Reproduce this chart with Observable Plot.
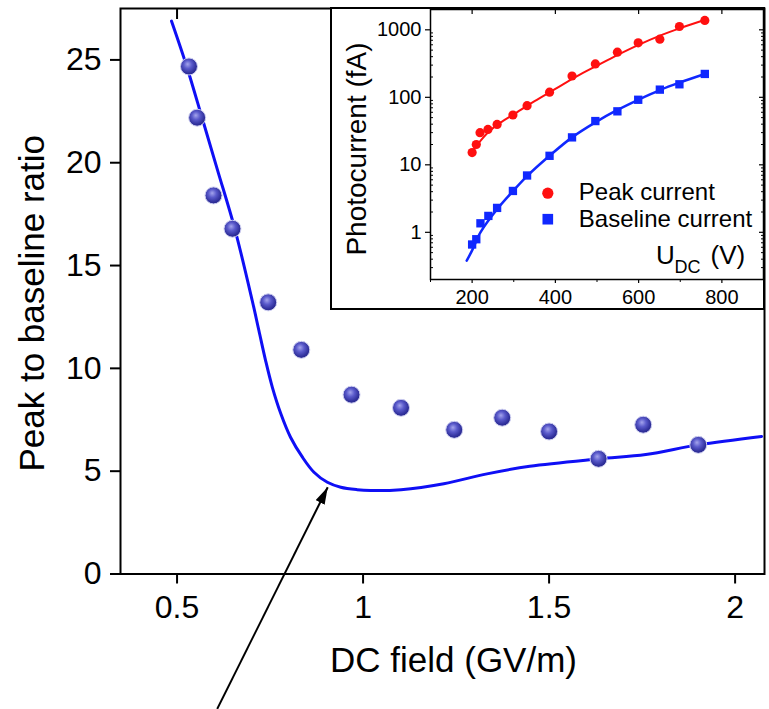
<!DOCTYPE html>
<html><head><meta charset="utf-8">
<script src="https://cdn.jsdelivr.net/npm/d3@7"></script>
<script src="https://cdn.jsdelivr.net/npm/@observablehq/plot@0.6"></script>
<style>
body{margin:0;background:#fff;}
#wrap{position:relative;width:769px;height:709px;overflow:hidden;background:#fff;}
#wrap > svg{position:absolute;left:0;top:0;}
#inset{position:absolute;left:330px;top:7px;width:435px;height:303px;box-sizing:border-box;border:2px solid #000;background:#fff;}
#inset svg{display:block;}
</style></head><body><div id="wrap"><div id="inset"></div></div>
<script>
// ---------- main chart data ----------
const fieldGVm = [0.532, 0.554, 0.598, 0.649, 0.745, 0.834, 0.969, 1.102, 1.245, 1.374, 1.5, 1.633, 1.753, 1.901];
const ratio    = [24.68, 22.19, 18.41, 16.79, 13.21, 10.90, 8.72, 8.08, 7.01, 7.60, 6.93, 5.60, 7.26, 6.28];
const fitField = [0.485, 0.526, 0.567, 0.609, 0.655, 0.702, 0.720, 0.738, 0.756, 0.779, 0.805, 0.837, 0.868, 0.904, 0.940, 0.984, 1.020, 1.102, 1.217, 1.333, 1.448, 1.633, 1.760, 1.901, 2.071];
const fitRatio = [26.89, 24.68, 22.20, 19.63, 16.80, 13.30, 11.84, 10.38, 9.09, 7.79, 6.65, 5.68, 4.95, 4.46, 4.22, 4.10, 4.06, 4.10, 4.39, 4.87, 5.24, 5.60, 5.81, 6.28, 6.69];
const xTicks = [0.5, 1, 1.5, 2];
const yTicks = [0, 5, 10, 15, 20, 25];
const arrowFrom = [0.608, -6.56];
const arrowTo   = [0.905, 4.22];

// ---------- inset data ----------
const peakV = [200, 210, 219, 238, 260, 298, 332, 386, 440, 496, 549, 599, 651, 698, 759];
const peakI = [15.2, 20, 29.9, 33.5, 39.7, 54.7, 75.2, 119, 207, 312, 466, 641, 727, 1120, 1376];
const baseV = [200, 210, 220, 239, 260, 298, 332, 386, 440, 496, 549, 599, 651, 698, 759];
const baseI = [0.66, 0.79, 1.36, 1.75, 2.3, 4.1, 6.95, 13.6, 25.5, 44.5, 62, 92, 130, 156, 222];
const peakFitV = [198, 210, 240, 270, 300, 350, 400, 450, 500, 550, 600, 650, 700, 760];
const peakFitI = [14.8, 19, 31, 43, 56, 88, 133, 203, 295, 426, 599, 813, 1059, 1409];
const baseFitV = [187, 200, 220, 260, 298, 332, 386, 440, 496, 549, 599, 651, 698, 759];
const baseFitI = [0.38, 0.54, 1.0, 2.2, 4.07, 6.8, 13.6, 25.5, 42.6, 65, 92, 128, 165, 222];
const insetXTicks = [200, 400, 600, 800];
const insetXMinor = [100, 300, 500, 700, 900];
const insetYTicks = [1, 10, 100, 1000];
const insetYMinor = [0.3,0.4,0.5,0.6,0.7,0.8,0.9,2,3,4,5,6,7,8,9,20,30,40,50,60,70,80,90,200,300,400,500,600,700,800,900];
const legendLabels = ["Peak current", "Baseline current"];

const FONT = "'Liberation Sans', Arial, Helvetica, sans-serif";
const points = fieldGVm.map((x, i) => ({x, y: ratio[i]}));
const fit = fitField.map((x, i) => ({x, y: fitRatio[i]}));
const arrow = [{x1: arrowFrom[0], y1: arrowFrom[1], x2: arrowTo[0], y2: arrowTo[1]}];

const main = Plot.plot({
  width: 769, height: 709,
  marginLeft: 120, marginRight: 5, marginTop: 8, marginBottom: 135.5,
  style: {fontFamily: FONT, background: "transparent", color: "black", overflow: "visible"},
  x: {domain: [0.348, 2.079], label: null},
  y: {domain: [0, 27.5], label: null},
  marks: [
    Plot.axisY(yTicks, {tickSize: 10, tickPadding: 9, fontSize: 32, strokeWidth: 2, tickFormat: d => String(d), label: null}),
    Plot.axisX(xTicks, {tickSize: 10, tickPadding: 11, fontSize: 32, strokeWidth: 2, tickFormat: d => String(d), label: null}),
    Plot.axisX(xTicks, {anchor: "top", tickSize: -10, tickFormat: () => "", strokeWidth: 2, label: null}),
    Plot.frame({strokeWidth: 2}),
    Plot.line(fit, {x: "x", y: "y", stroke: "#0f0ff5", strokeWidth: 3, curve: "catmull-rom"}),
    Plot.dot(points, {x: "x", y: "y", r: 8.5, fill: "url(#sphere)", stroke: "#cfd0f2", strokeWidth: 1}),
    Plot.link(arrow, {x1: "x1", y1: "y1", x2: "x2", y2: "y2", stroke: "black", strokeWidth: 2}),
    Plot.text(["Peak to baseline ratio"], {frameAnchor: "left", textAnchor: "middle", lineAnchor: "middle", rotate: -90, dx: -88, dy: 12, fontSize: 35}),
    Plot.text(["DC field (GV/m)"], {frameAnchor: "bottom", textAnchor: "middle", lineAnchor: "middle", dx: 11, dy: 86.5, fontSize: 35})
  ]
});

const defs = d3.select(main).insert("defs", ":first-child");
const grad = defs.append("radialGradient").attr("id", "sphere")
  .attr("cx", "0.45").attr("cy", "0.42").attr("r", "0.6").attr("fx", "0.42").attr("fy", "0.36");
[[0, "#a4a4ec"], [0.4, "#5a5acb"], [0.8, "#31319c"], [1, "#262688"]].forEach(([o, c]) =>
  grad.append("stop").attr("offset", o).attr("stop-color", c));
defs.append("marker").attr("id", "ahead").attr("viewBox", "0 0 17 10")
  .attr("refX", 17).attr("refY", 5).attr("markerWidth", 17).attr("markerHeight", 10)
  .attr("markerUnits", "userSpaceOnUse").attr("orient", "auto")
  .append("path").attr("d", "M0,0L17,5L0,10Z").attr("fill", "black");
d3.select(main).selectAll('g[aria-label="link"] path, g[aria-label="link"] line').attr("marker-end", "url(#ahead)");

const wrap = document.getElementById("wrap");
wrap.insertBefore(main, wrap.firstChild);

// ---------- inset ----------
const peak = peakV.map((v, i) => ({v, i: peakI[i]}));
const base = baseV.map((v, i) => ({v, i: baseI[i]}));
const peakFit = peakFitV.map((v, i) => ({v, i: peakFitI[i]}));
const baseFit = baseFitV.map((v, i) => ({v, i: baseFitI[i]}));
const RED = "#ff1010", BLUE = "#1028ff";
const T = {frameAnchor: "top-left", textAnchor: "start", lineAnchor: "middle"};

const inset = Plot.plot({
  width: 431, height: 299,
  marginLeft: 98, marginRight: 0, marginTop: 0, marginBottom: 29,
  style: {fontFamily: FONT, background: "white", color: "black", overflow: "visible"},
  x: {domain: [100, 900], label: null},
  y: {type: "log", domain: [0.2, 2000], label: null},
  marks: [
    Plot.frame({strokeWidth: 1.5}),
    Plot.axisY(insetYTicks, {tickSize: 5, tickPadding: 4, fontSize: 20, tickFormat: d => String(d), strokeWidth: 1.2, label: null}),
    Plot.axisY(insetYMinor, {tickSize: -3, tickFormat: () => "", strokeWidth: 1, label: null}),
    Plot.axisY(insetYTicks, {anchor: "right", tickSize: -5, tickFormat: () => "", strokeWidth: 1.2, label: null}),
    Plot.axisY(insetYMinor, {anchor: "right", tickSize: -3, tickFormat: () => "", strokeWidth: 1, label: null}),
    Plot.axisX(insetXTicks, {tickSize: 4, tickPadding: 6, fontSize: 20, strokeWidth: 1.2, label: null}),
    Plot.axisX(insetXMinor, {tickSize: 3, tickFormat: () => "", strokeWidth: 1, label: null}),
    Plot.axisX(insetXTicks, {anchor: "top", tickSize: -4, tickFormat: () => "", strokeWidth: 1.2, label: null}),
    Plot.line(peakFit, {x: "v", y: "i", stroke: RED, strokeWidth: 2, curve: "catmull-rom"}),
    Plot.line(baseFit, {x: "v", y: "i", stroke: BLUE, strokeWidth: 2.5, curve: "catmull-rom"}),
    Plot.dot(peak, {x: "v", y: "i", r: 4.6, fill: RED}),
    Plot.dot(base, {x: "v", y: "i", r: 4.7, symbol: "square", fill: BLUE}),
    Plot.dot(legendLabels.slice(0, 1), {frameAnchor: "top-left", dx: 117.3, dy: 183.7, r: 5.6, fill: RED}),
    Plot.dot(legendLabels.slice(1, 2), {frameAnchor: "top-left", dx: 117.3, dy: 209.7, r: 6, symbol: "square", fill: BLUE}),
    Plot.text(legendLabels.slice(0, 1), {...T, dx: 148.3, dy: 183.3, fontSize: 24}),
    Plot.text(legendLabels.slice(1, 2), {...T, dx: 148.3, dy: 209.6, fontSize: 24}),
    Plot.text(["U"], {...T, dx: 225.5, dy: 246, fontSize: 26}),
    Plot.text(["DC"], {...T, dx: 244, dy: 258, fontSize: 18}),
    Plot.text(["(V)"], {...T, dx: 280, dy: 246, fontSize: 26}),
    Plot.text(["Photocurrent (fA)"], {frameAnchor: "left", textAnchor: "middle", lineAnchor: "middle", rotate: -90, dx: -73.6, dy: 4.5, fontSize: 28})
  ]
});
document.getElementById("inset").appendChild(inset);
</script></body></html>
